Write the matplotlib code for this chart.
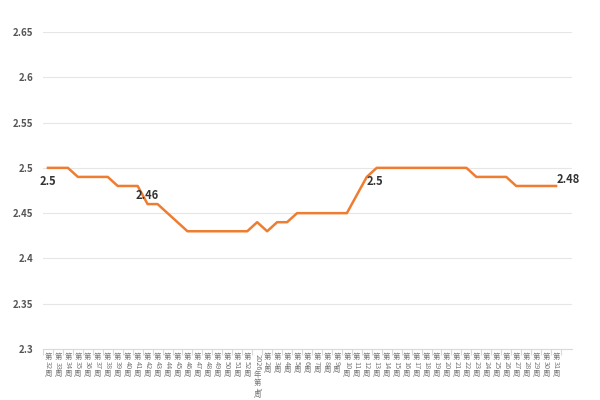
import re
import matplotlib
matplotlib.use("Agg")
import matplotlib.pyplot as plt
import matplotlib.transforms as mtransforms

plt.rcParams['font.family'] = ['Noto Sans CJK SC', 'DejaVu Sans']

weeks = ["第%d周" % w for w in range(32, 53)] + ["2026年第1周"] + ["第%d周" % w for w in range(2, 32)]
prices = [2.50, 2.50, 2.50, 2.49, 2.49, 2.49, 2.49, 2.48, 2.48, 2.48,
          2.46, 2.46, 2.45, 2.44, 2.43, 2.43, 2.43, 2.43, 2.43, 2.43,
          2.43, 2.44, 2.43, 2.44, 2.44, 2.45, 2.45, 2.45, 2.45, 2.45,
          2.45, 2.47, 2.49, 2.50, 2.50, 2.50, 2.50, 2.50, 2.50, 2.50,
          2.50, 2.50, 2.50, 2.49, 2.49, 2.49, 2.49, 2.48, 2.48, 2.48,
          2.48, 2.48]
yticks = [2.3, 2.35, 2.4, 2.45, 2.5, 2.55, 2.6, 2.65]
# (index, x offset pt, y offset pt)
labels_at = [(0, 0, -10), (10, 0, 6), (33, -1, -10), (51, 9, 5)]

fig = plt.figure(figsize=(6, 4), dpi=100)
ax = fig.add_axes([43 / 600, 51 / 400, 529 / 600, 317 / 400])

x = list(range(len(weeks)))
ax.plot(x, prices, color='#ee7d31', lw=1.8, zorder=3)

ax.set_ylim(2.3, 2.65)
ax.set_xlim(-0.5, len(weeks) + 0.6)
ax.set_yticks(yticks)
ax.set_yticklabels(["%g" % v for v in yticks], fontsize=7, color='#555555', fontweight='bold')
ax.tick_params(axis='y', length=0, pad=7)
ax.grid(axis='y', color='#e6e6e6', lw=0.8)
ax.set_axisbelow(True)
for s in ['top', 'right', 'left']:
    ax.spines[s].set_visible(False)
ax.spines['bottom'].set_color('#d9d9d9')
ax.set_xticks([i - 0.5 for i in range(len(weeks) + 1)])
ax.set_xticklabels([])
ax.tick_params(axis='x', length=4, color='#d9d9d9', width=0.8)

# vertical (stacked) category labels
trans = mtransforms.blended_transform_factory(ax.transData, ax.transAxes)
for i, lab in enumerate(weeks):
    parts = re.findall(r'\d+|\D', lab)
    off = -3
    for p in parts:
        if p.isdigit():
            h = 3.1 * len(p) + 0.4
            ax.annotate(p, xy=(i, 0), xycoords=trans, xytext=(0, off - h / 2),
                        textcoords='offset points', ha='center', va='center',
                        rotation=270, fontsize=5.3, color='#777777')
        else:
            h = 5.6
            ax.annotate(p, xy=(i, 0), xycoords=trans, xytext=(0, off - h / 2),
                        textcoords='offset points', ha='center', va='center',
                        fontsize=5.3, color='#777777')
        off -= h

for i, dx, dy in labels_at:
    ax.annotate("%g" % prices[i], xy=(i, prices[i]), xytext=(dx, dy),
                textcoords='offset points', ha='center', va='center',
                fontsize=8, fontweight='bold', color='#333333')

fig.savefig("out.png", dpi=100)
